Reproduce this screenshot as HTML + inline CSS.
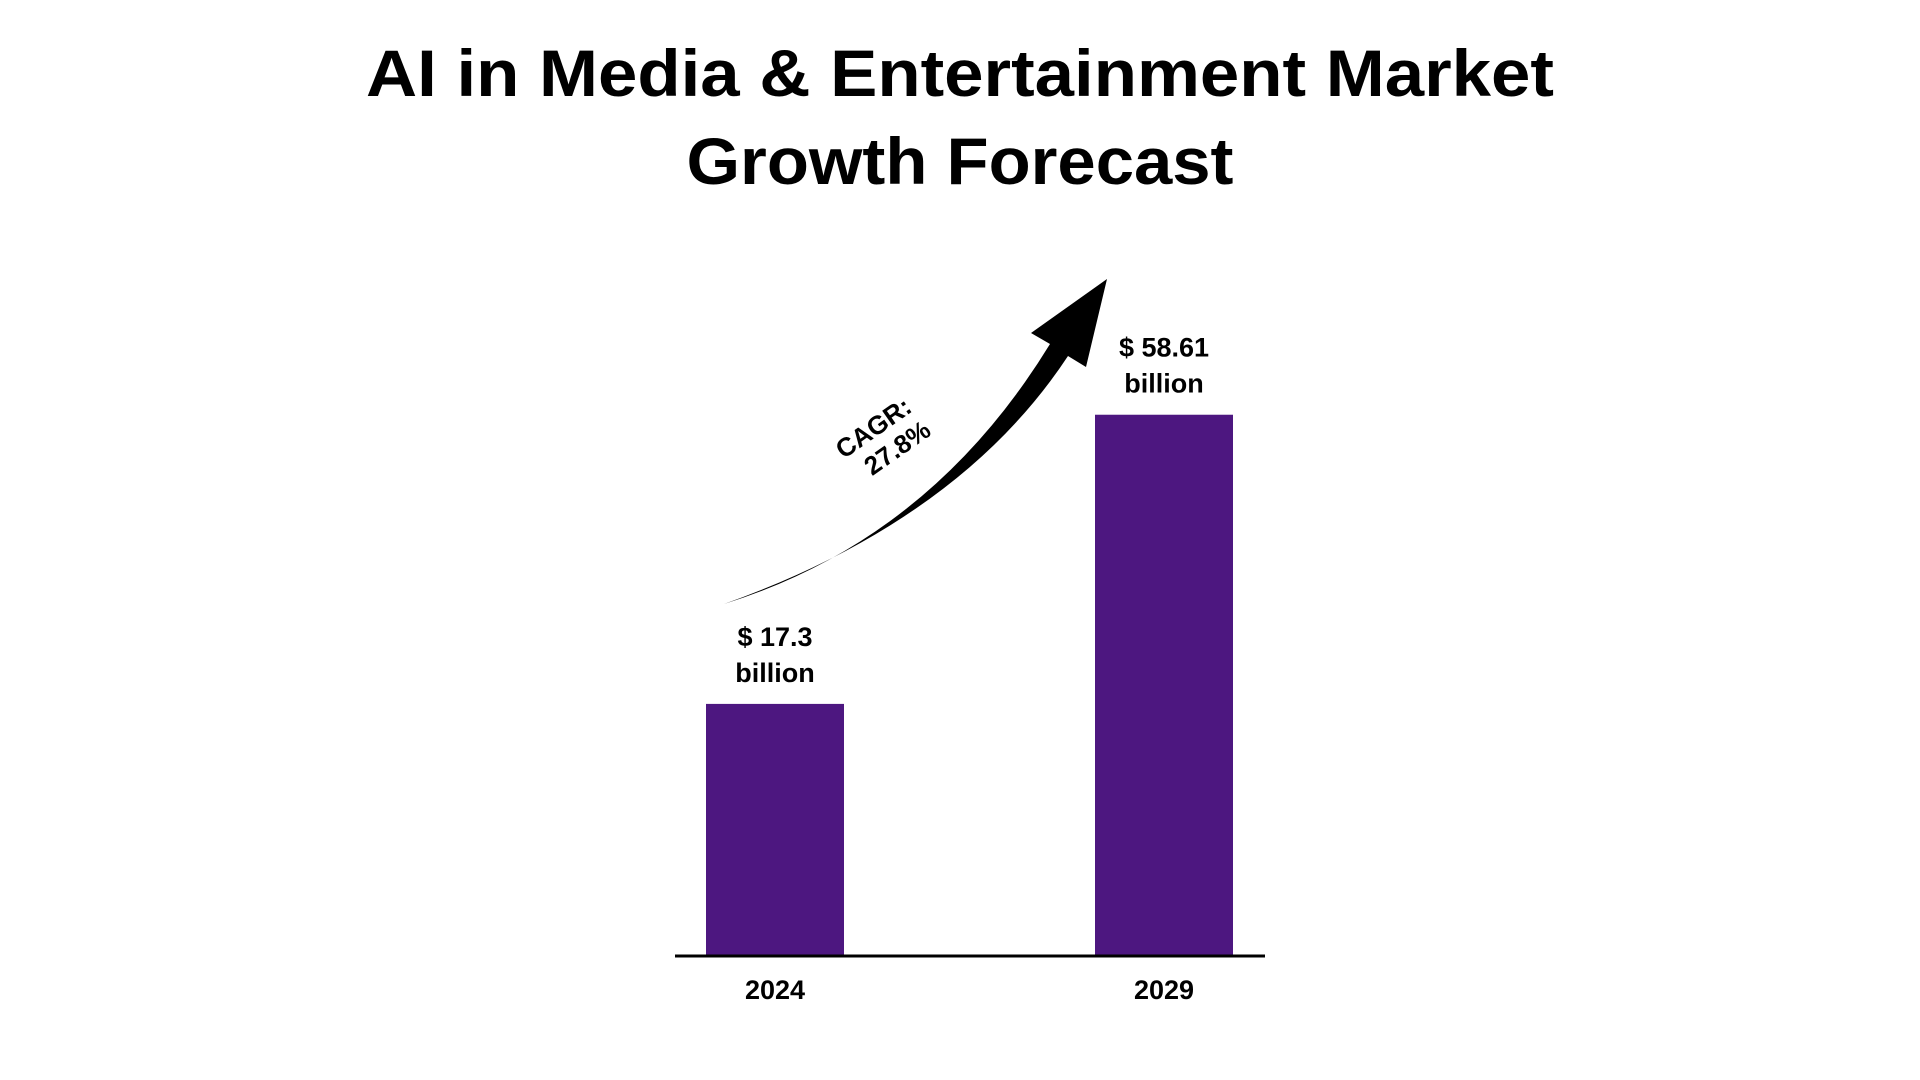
<!DOCTYPE html>
<html><head><meta charset="utf-8"><style>
html,body{margin:0;padding:0;background:#fff;width:1920px;height:1080px;overflow:hidden}
svg{display:block}
text{font-family:"Liberation Sans",sans-serif;font-weight:bold;fill:#000}
</style></head><body>
<svg id="chart" width="1920" height="1080" viewBox="0 0 1920 1080">
<text x="960" y="96" text-anchor="middle" font-size="66" textLength="1188" lengthAdjust="spacingAndGlyphs">AI in Media &amp; Entertainment Market</text>
<text x="960" y="184" text-anchor="middle" font-size="66" textLength="547" lengthAdjust="spacingAndGlyphs">Growth Forecast</text>
<g id="bars"></g>
<line x1="675" y1="956" x2="1265" y2="956" stroke="#000" stroke-width="3"/>
<path fill="#000" d="M724,604 Q930,540 1050,344 L1031,333 L1107,279 L1086,367 L1068,356 Q960,520 724,604 Z"/>
<g transform="translate(882,440) rotate(-35)">
<text x="0" y="-6" text-anchor="middle" font-size="26">CAGR:</text>
<text x="8" y="24" text-anchor="middle" font-size="26">27.8%</text>
</g>
</svg>
<script>
const categories = ["2024", "2029"];
const values = [17.3, 58.61];
const valueLabels = ["$ 17.3", "$ 58.61"];
const ns = "http://www.w3.org/2000/svg";
const axisY = 956;
const barW = 138;
const xCenter = i => 775 + i * 389;
const yScale = v => axisY - (131 + 7.0 * v);
const g = document.getElementById('bars');
categories.forEach((c, i) => {
  const cx = xCenter(i), top = yScale(values[i]);
  const r = document.createElementNS(ns, 'rect');
  
  
  r.setAttribute('x', cx - barW / 2); r.setAttribute('y', top);
  r.setAttribute('width', barW); r.setAttribute('height', axisY - top);
  r.setAttribute('fill', '#4d1780');
  g.appendChild(r);
  const t1 = document.createElementNS(ns, 'text');
  
  
  t1.setAttribute('x', cx); t1.setAttribute('y', top - 58);
  t1.setAttribute('text-anchor', 'middle'); t1.setAttribute('font-size', '27');
  t1.textContent = valueLabels[i];
  g.appendChild(t1);
  const t2 = document.createElementNS(ns, 'text');
  
  
  t2.setAttribute('x', cx); t2.setAttribute('y', top - 22);
  t2.setAttribute('text-anchor', 'middle'); t2.setAttribute('font-size', '27');
  t2.textContent = 'billion';
  g.appendChild(t2);
  const t3 = document.createElementNS(ns, 'text');
  
  
  t3.setAttribute('x', cx); t3.setAttribute('y', 999);
  t3.setAttribute('text-anchor', 'middle'); t3.setAttribute('font-size', '27');
  t3.textContent = c;
  g.appendChild(t3);
});
</script>
</body></html>
